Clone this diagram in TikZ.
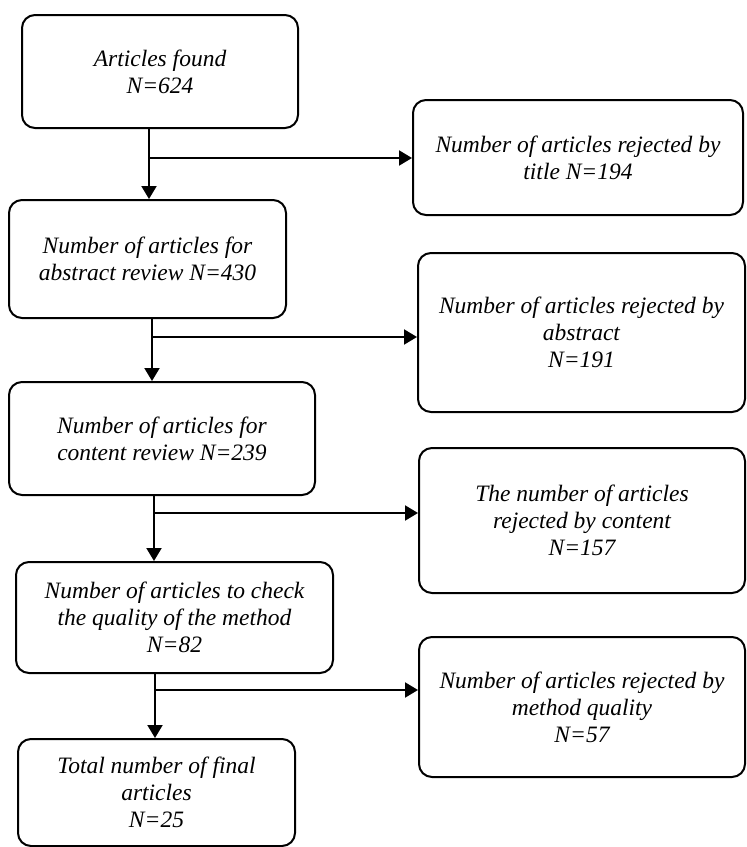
\documentclass[tikz,border=0pt]{standalone}
\usepackage{fontspec}
\setmainfont{Liberation Serif}
\usetikzlibrary{arrows.meta,calc}
\tikzset{
  boxstyle/.style={draw=black, line width=2pt, rounded corners=13pt, inner sep=0pt,
    align=center, font=\fontsize{23.5}{27}\selectfont\itshape},
  arr/.style={line width=2pt, -{Triangle[length=13pt,width=15pt]}}
}
\begin{document}
\begin{tikzpicture}[x=1pt,y=-1pt]
\useasboundingbox (0,0) rectangle (747,847);
\node[boxstyle, minimum width=276pt, minimum height=113pt] (b1) at (160,71.5) {Articles found\\N=624};
\node[boxstyle, minimum width=330pt, minimum height=115pt] (r1) at (578,157.5) {Number of articles rejected by\\title N=194};
\node[boxstyle, minimum width=277pt, minimum height=118pt] (b2) at (147.5,259) {Number of articles for\\abstract review N=430};
\node[boxstyle, minimum width=327pt, minimum height=159pt] (r2) at (581.5,332.5) {Number of articles rejected by\\abstract\\N=191};
\node[boxstyle, minimum width=306pt, minimum height=113pt] (b3) at (162,438.5) {Number of articles for\\content review N=239};
\node[boxstyle, minimum width=326pt, minimum height=145pt] (r3) at (582,520.5) {The number of articles\\rejected by content\\N=157};
\node[boxstyle, minimum width=317pt, minimum height=111pt] (b4) at (174.5,617.5) {Number of articles to check\\the quality of the method\\N=82};
\node[boxstyle, minimum width=326pt, minimum height=140pt] (r4) at (582,707) {Number of articles rejected by\\method quality\\N=57};
\node[boxstyle, minimum width=277pt, minimum height=107pt] (b5) at (156.5,792.5) {Total number of final\\articles\\N=25};
% trunk start points and junctions
\coordinate (s1) at (149,128);
\coordinate (j1) at (149,158);
\coordinate (s2) at (152,318);
\coordinate (j2) at (152,337);
\coordinate (s3) at (154,495);
\coordinate (j3) at (154,513);
\coordinate (s4) at (155,673);
\coordinate (j4) at (155,690);
\draw[arr] (s1) -- (s1 |- b2.north);
\draw[arr] (j1) -- (j1 -| r1.west);
\draw[arr] (s2) -- (s2 |- b3.north);
\draw[arr] (j2) -- (j2 -| r2.west);
\draw[arr] (s3) -- (s3 |- b4.north);
\draw[arr] (j3) -- (j3 -| r3.west);
\draw[arr] (s4) -- (s4 |- b5.north);
\draw[arr] (j4) -- (j4 -| r4.west);
\end{tikzpicture}
\end{document}
